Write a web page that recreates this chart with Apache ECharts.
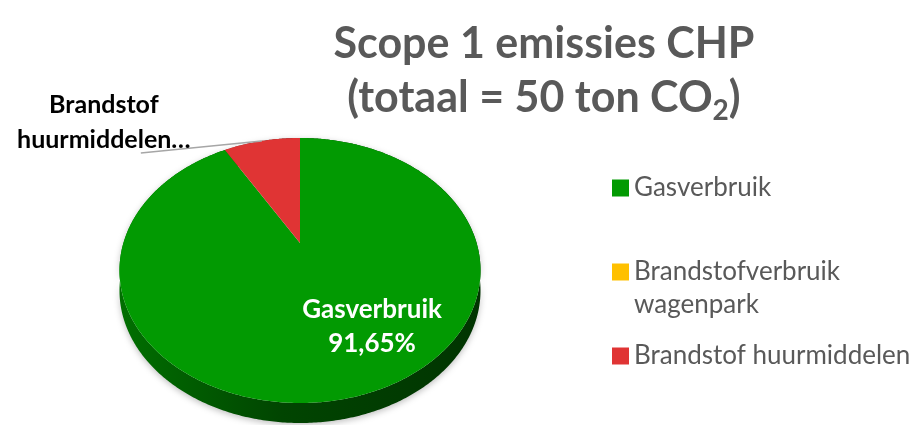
<!DOCTYPE html>
<html>
<head>
<meta charset="utf-8">
<script src="https://cdn.jsdelivr.net/npm/echarts@6/dist/echarts.min.js"></script>
<style>
  html, body { margin: 0; padding: 0; background: #fff; }
  #chart { width: 916px; height: 425px; }
</style>
</head>
<body>
<div id="chart"></div>
<script>
// data
const categories = ['Gasverbruik', 'Brandstofverbruik wagenpark', 'Brandstof huurmiddelen'];
const shares = [91.65, 0, 8.35];
const colors = ['#029A02', '#FFC000', '#E03434'];

const FONT = 'Lato, "Open Sans", sans-serif';
const chart = echarts.init(document.getElementById('chart'));

// tilted pie: centre, radius, vertical radius, perspective, thickness
const cx = 300, cy = 243, R = 176.6, H = 126.8, P = 0.2075, DEPTH = 20;
const total = shares.reduce((a, b) => a + b, 0);
const starts = shares.map((v, i) => shares.slice(0, i).reduce((a, b) => a + b, 0));

function project(theta, k) {
  const u = Math.sin(theta) * k, v = -Math.cos(theta) * k;
  const s = 1 / (1 - P * v);
  return [cx + R * u * s, cy + H * v * s];
}

function rimPoints(a0, a1) {
  const n = Math.max(2, Math.ceil((a1 - a0) / 0.01));
  const pts = [];
  for (let j = 0; j <= n; j++) pts.push(project(a0 + (a1 - a0) * j / n, 1));
  return pts;
}

// darker shade for the side of a slice
function shade(color, f) {
  const c = echarts.color.parse(color);
  return 'rgb(' + Math.round(c[0] * f) + ',' + Math.round(c[1] * f) + ',' + Math.round(c[2] * f) + ')';
}

function pctText(v) {
  return (v / total * 100).toFixed(2).replace('.', ',') + '%';
}

function renderSlice(i) {
  return function (params, api) {
    const value = api.value(0);
    const children = [];
    if (value > 0) {
      const a0 = starts[i] / total * Math.PI * 2;
      const a1 = a0 + value / total * Math.PI * 2;
      const rim = rimPoints(a0, a1);
      const color = api.visual('color');
      const side = rim.concat(rim.slice().reverse().map(p => [p[0], p[1] + DEPTH]));
      children.push({
        type: 'polygon', z2: 1,
        shape: { points: side },
        style: {
          fill: new echarts.graphic.LinearGradient(0, 0, 1, 0, [
            { offset: 0, color: shade(color, 0.72) },
            { offset: 0.45, color: shade(color, 0.45) },
            { offset: 1, color: shade(color, 0.34) }
          ]),
          shadowBlur: 6, shadowColor: 'rgba(0,0,0,0.25)', shadowOffsetY: 2
        }
      });
      children.push({
        type: 'polygon', z2: 10,
        shape: { points: [[cx, cy]].concat(rim) },
        style: { fill: color }
      });
      const mid = (a0 + a1) / 2;
      if (i === 0) {
        // label inside the big slice
        const u = 0.359, v = 0.579, s = 1 / (1 - P * v);
        children.push({
          type: 'text', z2: 20,
          x: cx + R * u * s, y: cy + H * v * s,
          style: {
            text: categories[i] + '\n' + pctText(value),
            fill: '#fff', font: 'bold 26px ' + FONT,
            align: 'center', verticalAlign: 'middle', lineHeight: 34
          }
        });
      } else {
        // outside label with leader line
        const anchor = project(mid, 1);
        const end = [anchor[0] - 121, anchor[1] + 12];
        children.push({
          type: 'polyline', z2: 20,
          shape: { points: [anchor, end] },
          style: { stroke: '#A6A6A6', lineWidth: 1.5, fill: null }
        });
        children.push({
          type: 'text', z2: 20,
          x: anchor[0] - 158, y: anchor[1] - 19,
          style: {
            text: categories[i].split(' ').join('\n') + '\u2026',
            fill: '#000', font: 'bold 25px ' + FONT,
            align: 'center', verticalAlign: 'middle', lineHeight: 35
          }
        });
      }
    }
    return { type: 'group', children: children };
  };
}

const option = {
  backgroundColor: '#fff',
  animation: false,
  title: {
    text: 'Scope 1 emissies CHP\n(totaal = 50 ton CO{sub|2})',
    left: 539,
    top: 12,
    textAlign: 'center',
    textStyle: {
      fontFamily: FONT, fontSize: 43, fontWeight: 'bold', color: '#595959', lineHeight: 54,
      rich: {
        sub: { fontFamily: FONT, fontSize: 28, fontWeight: 'bold', color: '#595959',
               verticalAlign: 'bottom', lineHeight: 28, padding: [0, 0, 0, 0] }
      }
    }
  },
  legend: {
    orient: 'vertical',
    left: 612,
    top: 171.5,
    padding: 0,
    itemGap: 18,
    itemWidth: 17,
    itemHeight: 17,
    icon: 'rect',
    selectedMode: false,
    data: categories,
    formatter: name => name === categories[1] ? '\n' + name.replace(' ', '\n') : name,
    textStyle: { fontFamily: FONT, fontSize: 26, color: '#595959', lineHeight: 33 }
  },
  series: categories.map((name, i) => ({
    type: 'custom',
    name: name,
    coordinateSystem: 'none',
    itemStyle: { color: colors[i] },
    renderItem: renderSlice(i),
    data: [shares[i]]
  }))
};

chart.setOption(option);
</script>
</body>
</html>
